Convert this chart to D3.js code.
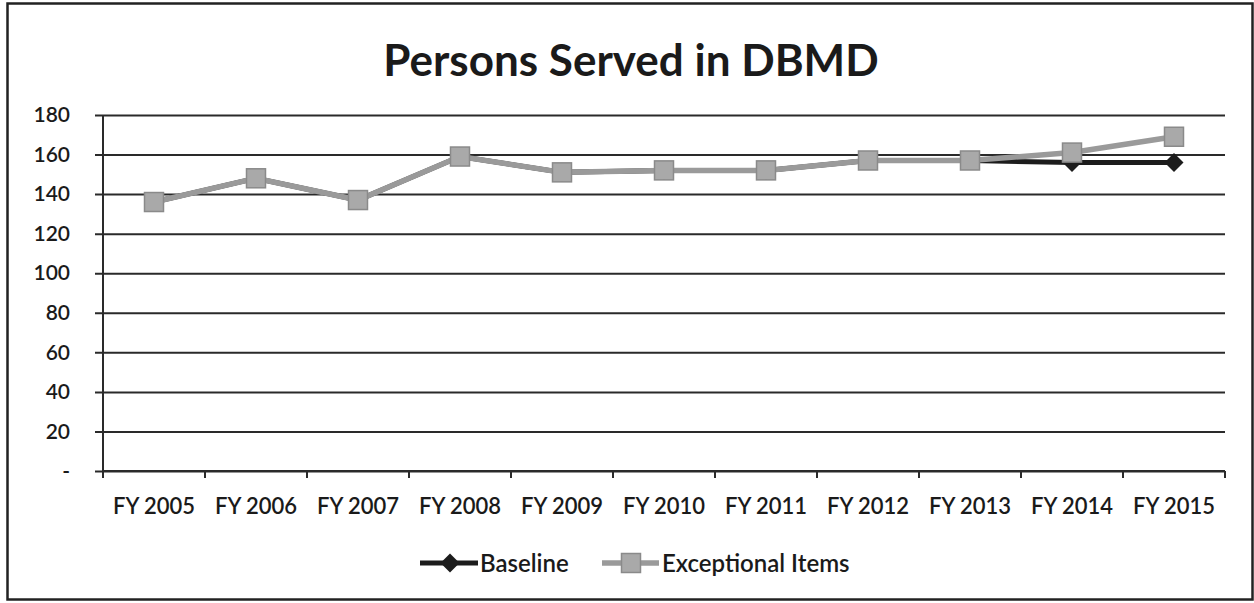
<!DOCTYPE html>
<html>
<head>
<meta charset="utf-8">
<script src="https://cdn.jsdelivr.net/npm/d3@7"></script>
<style>
  html, body { margin: 0; padding: 0; background: #fff; }
  svg { display: block; }
  text { font-family: Lato, "Open Sans", sans-serif; fill: #1a1a1a; }
</style>
</head>
<body>
<svg id="chart" width="1254" height="603"></svg>
<script>
// Fiscal years on the category axis
const categories = ["FY 2005", "FY 2006", "FY 2007", "FY 2008", "FY 2009", "FY 2010",
                    "FY 2011", "FY 2012", "FY 2013", "FY 2014", "FY 2015"];
// Persons served, baseline projection
const baseline = [136, 148, 137, 159, 151, 152, 152, 157, 157, 156, 156];
// Persons served including exceptional items
const exceptional = [136, 148, 137, 159, 151, 152, 152, 157, 157, 161, 169];
// Value-axis ticks
const yTicks = [0, 20, 40, 60, 80, 100, 120, 140, 160, 180];
const seriesNames = ["Baseline", "Exceptional Items"];

const svg = d3.select("#chart");
const plot = { left: 103, right: 1225, top: 115, bottom: 471 };

// Outer frame
svg.append("rect")
  .attr("x", 7.5).attr("y", 3.5)
  .attr("width", 1245).attr("height", 596)
  .attr("fill", "none").attr("stroke", "#222").attr("stroke-width", 2.5);

// Title
svg.append("text")
  .attr("x", 631).attr("y", 76)
  .attr("text-anchor", "middle")
  .style("font-size", "44px").style("font-weight", "bold")
  .text("Persons Served in DBMD");

const x = d3.scaleBand().domain(categories).range([plot.left, plot.right]).padding(0);
const y = d3.scaleLinear().domain([0, 180]).range([plot.bottom, plot.top]);

// Horizontal gridlines with outward tick stubs
const yAxis = d3.axisLeft(y).tickValues(yTicks)
  .tickSize(-(plot.right - plot.left + 8))
  .tickPadding(25)
  .tickFormat(d => d === 0 ? "-" : d);
const gy = svg.append("g").attr("transform", `translate(${plot.left - 8},0)`).call(yAxis);
gy.select(".domain").remove();
gy.selectAll(".tick line").attr("stroke", "#2a2a2a").attr("stroke-width", 2)
  .attr("x1", 0);
gy.selectAll(".tick text")
  .style("font-size", "21px").style("font-weight", "600")
  .attr("fill", "#1a1a1a");

// Vertical value axis line
svg.append("line")
  .attr("x1", plot.left).attr("x2", plot.left)
  .attr("y1", plot.top).attr("y2", plot.bottom + 7)
  .attr("stroke", "#2a2a2a").attr("stroke-width", 2);

// Category axis with boundary tick marks
const gx = svg.append("g").attr("transform", `translate(0,${plot.bottom})`);
const boundaries = categories.map(c => x(c)).concat([x(categories[categories.length - 1]) + x.bandwidth()]);
gx.append("line")
  .attr("x1", plot.left).attr("x2", plot.right)
  .attr("stroke", "#2a2a2a").attr("stroke-width", 2);
gx.selectAll("line.tk").data(boundaries).join("line")
  .attr("class", "tk")
  .attr("x1", d => d).attr("x2", d => d)
  .attr("y1", 0).attr("y2", 7)
  .attr("stroke", "#2a2a2a").attr("stroke-width", 2);
gx.selectAll("text").data(categories).join("text")
  .attr("x", d => x(d) + x.bandwidth() / 2)
  .attr("y", 43)
  .attr("text-anchor", "middle")
  .style("font-size", "22px").style("font-weight", "600")
  .text(d => d);

const cx = d => x(d) + x.bandwidth() / 2;
const line = d3.line().x(d => cx(d.cat)).y(d => y(d.v));
const baseData = categories.map((c, i) => ({ cat: c, v: baseline[i] }));
const excData = categories.map((c, i) => ({ cat: c, v: exceptional[i] }));

const diamond = d3.symbol().type(d3.symbolDiamond2).size(230);

// Baseline series
svg.append("path").datum(baseData)
  .attr("d", line).attr("fill", "none")
  .attr("stroke", "#1c1c1c").attr("stroke-width", 5);
svg.selectAll("path.bm").data(baseData).join("path")
  .attr("class", "bm")
  .attr("d", diamond)
  .attr("transform", d => `translate(${cx(d.cat)},${y(d.v)})`)
  .attr("fill", "#1c1c1c");

// Exceptional items series
svg.append("path").datum(excData)
  .attr("d", line).attr("fill", "none")
  .attr("stroke", "#9a9a9a").attr("stroke-width", 5.5);
const sq = 19;
svg.selectAll("rect.em").data(excData).join("rect")
  .attr("class", "em")
  .attr("x", d => cx(d.cat) - sq / 2).attr("y", d => y(d.v) - sq / 2)
  .attr("width", sq).attr("height", sq)
  .attr("fill", "#a9a9a9").attr("stroke", "#8a8a8a").attr("stroke-width", 1.5);

// Legend
const legY = 563;
const leg = svg.append("g");
// Baseline entry
leg.append("line").attr("x1", 420).attr("x2", 478).attr("y1", legY).attr("y2", legY)
  .attr("stroke", "#1c1c1c").attr("stroke-width", 5);
leg.append("path").attr("d", diamond).attr("transform", `translate(450,${legY})`).attr("fill", "#1c1c1c");
leg.append("text").attr("x", 480).attr("y", 572)
  .style("font-size", "24px").style("font-weight", "600").text(seriesNames[0]);
// Exceptional entry
leg.append("line").attr("x1", 602).attr("x2", 659).attr("y1", legY).attr("y2", legY)
  .attr("stroke", "#9a9a9a").attr("stroke-width", 5.5);
leg.append("rect").attr("x", 631 - sq / 2).attr("y", legY - sq / 2)
  .attr("width", sq).attr("height", sq)
  .attr("fill", "#a9a9a9").attr("stroke", "#8a8a8a").attr("stroke-width", 1.5);
leg.append("text").attr("x", 662).attr("y", 572)
  .style("font-size", "24px").style("font-weight", "600").text(seriesNames[1]);
</script>
</body>
</html>
